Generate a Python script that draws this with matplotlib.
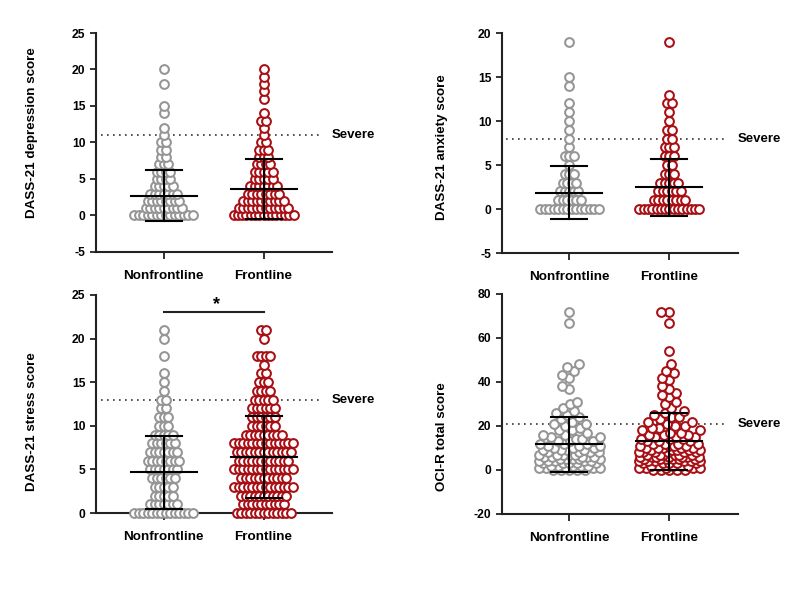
import numpy as np
import matplotlib
matplotlib.use('Agg')
import matplotlib.pyplot as plt

plt.rcParams['font.family'] = ['Liberation Sans', 'DejaVu Sans']
plt.rcParams['font.weight'] = 'bold'
plt.rcParams['axes.unicode_minus'] = False

groups = ['Nonfrontline', 'Frontline']
colors = ['#959595', '#a80f15']

# ---- DASS-21 depression (score -> number of participants) ----
dep_scores_nf = [0, 1, 2, 3, 4, 5, 6, 7, 8, 9, 10, 11, 12, 14, 15, 18, 20]
dep_counts_nf = [14, 9, 8, 7, 5, 4, 4, 3, 2, 2, 2, 1, 1, 1, 1, 1, 1]
dep_scores_f = [0, 1, 2, 3, 4, 5, 6, 7, 8, 9, 10, 11, 12, 13, 14, 16, 17, 18, 19, 20]
dep_counts_f = [15, 12, 10, 8, 7, 5, 5, 4, 3, 3, 2, 1, 1, 2, 1, 1, 1, 1, 1, 1]
dep_mean = [2.7, 3.6]
dep_sd = [3.5, 4.1]

# ---- DASS-21 anxiety ----
anx_scores_nf = [0, 1, 2, 3, 4, 5, 6, 7, 8, 9, 10, 11, 12, 14, 15, 19]
anx_counts_nf = [14, 6, 5, 4, 3, 1, 3, 1, 1, 1, 1, 1, 1, 1, 1, 1]
anx_scores_f = [0, 1, 2, 3, 4, 5, 6, 7, 8, 9, 10, 11, 12, 13, 19]
anx_counts_f = [15, 8, 6, 5, 3, 2, 3, 3, 2, 2, 1, 1, 2, 1, 1]
anx_mean = [1.87, 2.47]
anx_sd = [2.97, 3.23]

# ---- DASS-21 stress ----
str_scores_nf = [0, 1, 2, 3, 4, 5, 6, 7, 8, 9, 10, 11, 12, 13, 14, 15, 16, 18, 20, 21]
str_counts_nf = [14, 7, 5, 5, 6, 7, 8, 7, 6, 5, 3, 3, 2, 2, 1, 1, 1, 1, 1, 1]
str_scores_f = [0, 1, 2, 3, 4, 5, 6, 7, 8, 9, 10, 11, 12, 13, 14, 15, 16, 17, 18, 20, 21]
str_counts_f = [13, 10, 11, 14, 11, 14, 12, 13, 14, 9, 6, 6, 6, 5, 4, 3, 2, 1, 4, 1, 2]
str_mean = [4.65, 6.45]
str_sd = [4.2, 4.7]

# ---- OCI-R total ----
oci_nf = [72, 67, 48, 47, 45, 43, 42, 38, 37, 31, 30, 28, 27, 26, 25, 24, 23, 22,
          21, 21, 20, 19, 18, 18, 17, 16, 16, 15, 15, 14, 14, 13, 13, 13, 12, 12,
          12, 11, 11, 11, 10, 10, 10, 9, 9, 9, 9, 8, 8, 8, 8, 7, 7, 7, 7, 7, 6, 6,
          6, 6, 6, 5, 5, 5, 5, 5, 4, 4, 4, 4, 4, 3, 3, 3, 3, 3, 2, 2, 2, 2, 2, 1,
          1, 1, 1, 1, 0, 0, 0, 0, 0]
oci_f = [72, 72, 67, 54, 48, 45, 44, 42, 41, 38, 37, 35, 34, 33, 31, 30, 28, 27,
         26, 25, 24, 24, 23, 22, 22, 21, 20, 20, 19, 19, 18, 18, 17, 17, 16, 16,
         16, 15, 15, 15, 14, 14, 14, 13, 13, 13, 12, 12, 12, 12, 11, 11, 11, 11,
         10, 10, 10, 10, 10, 9, 9, 9, 9, 9, 8, 8, 8, 8, 8, 8, 7, 7, 7, 7, 7, 7,
         6, 6, 6, 6, 6, 6, 6, 5, 5, 5, 5, 5, 5, 4, 4, 4, 4, 4, 4, 3, 3, 3, 3, 3,
         2, 2, 2, 2, 2, 1, 1, 1, 1, 1, 0, 0, 0, 0, 0]
oci_mean = [11.8, 13.1]
oci_sd = [12.5, 13.0]

severe = [11, 8, 13, 21]

fig = plt.figure(figsize=(8, 6), dpi=100)
W, H = 800.0, 600.0


def make_ax(left, right, top, bottom):
    return fig.add_axes([left / W, 1 - bottom / H, (right - left) / W, (bottom - top) / H])


ax1 = make_ax(96, 332, 33, 252)
ax2 = make_ax(502, 738, 33, 253)
ax3 = make_ax(96, 332, 295, 513)
ax4 = make_ax(502, 738, 294, 514)

STEP = 0.045
CAP = 0.30
MS = 40
LW = 1.45


def row_points(scores, counts, xc):
    xs, ys = [], []
    for v, n in zip(scores, counts):
        step = STEP
        if n > 1 and (n - 1) * step > 2 * CAP:
            step = 2 * CAP / (n - 1)
        offs = (np.arange(n) - (n - 1) / 2.0) * step
        xs.extend(xc + offs)
        ys.extend([v] * n)
    return np.array(xs), np.array(ys)


def swarm_points(values, xc, ypx, d=8.0, cap_px=31.0, xpx=100.0):
    vals = sorted(values)
    placed = []
    xs = []
    for v in vals:
        y = v * ypx
        dd = d
        while True:
            forb = []
            for (px, py) in placed:
                dy = abs(py - y)
                if dy < dd:
                    w = np.sqrt(dd * dd - dy * dy)
                    forb.append((px - w, px + w))
            cands = [0.0] + [a for a, b in forb] + [b for a, b in forb]
            ok = [c for c in cands
                  if all(not (a + 1e-9 < c < b - 1e-9) for a, b in forb)]
            ok.sort(key=lambda c: (round(abs(c), 6), c))
            best = ok[0]
            if abs(best) <= cap_px or dd < 1.0:
                break
            dd *= 0.9
        placed.append((best, y))
        xs.append(xc + best / xpx)
    return np.array(xs), np.array(vals, dtype=float)


def style_axis(ax, ylim, yticks, ylabel, label_xy):
    ax.set_xlim(-0.675, 1.685)
    ax.set_ylim(*ylim)
    ax.set_yticks(yticks)
    ax.set_xticks([0, 1])
    ax.set_xticklabels(groups, fontsize=9.7, fontweight='bold')
    for s in ['top', 'right']:
        ax.spines[s].set_visible(False)
    for s in ['left', 'bottom']:
        ax.spines[s].set_linewidth(1.5)
        ax.spines[s].set_color('#222222')
    ax.tick_params(axis='y', length=4.5, width=1.3, pad=3, labelsize=8.7, color='#222222')
    ax.tick_params(axis='x', length=5, width=1.3, pad=8, color='#222222')
    for t in ax.get_yticklabels():
        t.set_fontweight('bold')
    ax.text(label_xy[0], label_xy[1], ylabel, transform=ax.transAxes, rotation=90,
            ha='center', va='center', fontsize=9.6, fontweight='bold')


def draw_stats(ax, means, sds):
    for i, (m, s) in enumerate(zip(means, sds)):
        ax.plot([i - 0.33, i + 0.33], [m, m], color='black', lw=1.5, zorder=5, clip_on=False)
        ax.plot([i, i], [m - s, m + s], color='black', lw=1.5, zorder=5, clip_on=False)
        for yy in (m - s, m + s):
            ax.plot([i - 0.18, i + 0.18], [yy, yy], color='black', lw=1.5, zorder=5, clip_on=False)


def draw_severe(ax, y):
    ax.plot([-0.63, 1.58], [y, y], color='#333333', lw=1.2, linestyle=(0, (1, 2.6)), zorder=1)
    ax.text(1.68, y, 'Severe', ha='left', va='center', fontsize=9.5, fontweight='bold',
            clip_on=False)


def draw_rows(ax, data, means, sds, sev):
    for i, (sc, cn) in enumerate(data):
        x, y = row_points(sc, cn, i)
        ax.scatter(x, y, s=MS, facecolors='white', edgecolors=colors[i], linewidths=LW,
                   zorder=3, clip_on=False)
    draw_severe(ax, sev)
    draw_stats(ax, means, sds)


draw_rows(ax1, [(dep_scores_nf, dep_counts_nf), (dep_scores_f, dep_counts_f)], dep_mean, dep_sd, severe[0])
style_axis(ax1, (-5, 25), [-5, 0, 5, 10, 15, 20, 25], 'DASS-21 depression score', (-0.272, 0.545))

draw_rows(ax2, [(anx_scores_nf, anx_counts_nf), (anx_scores_f, anx_counts_f)], anx_mean, anx_sd, severe[1])
style_axis(ax2, (-5, 20), [-5, 0, 5, 10, 15, 20], 'DASS-21 anxiety score', (-0.255, 0.48))

draw_rows(ax3, [(str_scores_nf, str_counts_nf), (str_scores_f, str_counts_f)], str_mean, str_sd, severe[2])
style_axis(ax3, (0, 25), [0, 5, 10, 15, 20, 25], 'DASS-21 stress score', (-0.272, 0.42))
ax3.plot([0, 1], [23, 23], color='#222222', lw=1.5, clip_on=False)
ax3.text(0.53, 22.9, '*', ha='center', va='bottom', fontsize=13, fontweight='bold')

for i, vals in enumerate([oci_nf, oci_f]):
    x, y = swarm_points(vals, i, ypx=2.197)
    ax4.scatter(x, y, s=MS, facecolors='white', edgecolors=colors[i], linewidths=LW,
                zorder=3, clip_on=False)
draw_severe(ax4, severe[3])
draw_stats(ax4, oci_mean, oci_sd)
style_axis(ax4, (-20, 80), [-20, 0, 20, 40, 60, 80], 'OCI-R total score', (-0.255, 0.35))

fig.savefig('out.png', dpi=100)
